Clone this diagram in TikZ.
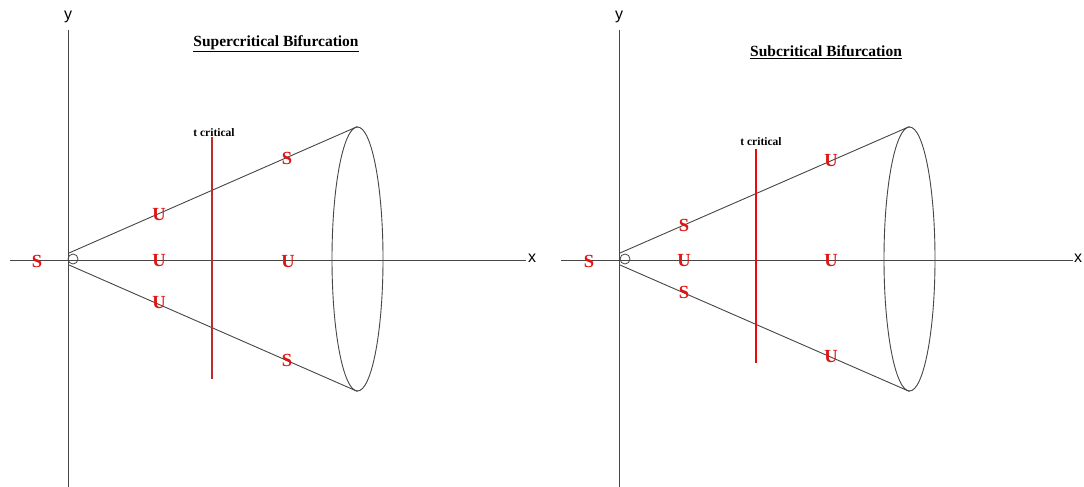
\documentclass[tikz,border=0pt]{standalone}
\usepackage{fontspec}
\setmainfont{Liberation Serif}
\newfontfamily\axisfont{Liberation Sans}
\usetikzlibrary{shapes.geometric}
\definecolor{axgray}{RGB}{70,70,70}
\definecolor{labred}{RGB}{225,20,20}
\definecolor{darkred}{RGB}{190,45,45}
\definecolor{brightred}{RGB}{235,10,10}
\begin{document}
\begin{tikzpicture}[x=1pt,y=-1pt,
  axis/.style={draw=axgray,line width=1pt},
  cone/.style={draw=axgray,line width=0.9pt},
  rim/.style={ellipse,draw=axgray,line width=0.9pt,minimum width=51pt,minimum height=264pt,inner sep=0pt},
  orig/.style={circle,draw=axgray,line width=0.8pt,minimum size=10pt,inner sep=0pt},
  axlab/.style={font=\axisfont\fontsize{16}{16}\selectfont,inner sep=0pt},
  ttl/.style={font=\bfseries\fontsize{15.5}{15.5}\selectfont,inner sep=0pt},
  tcrit/.style={font=\bfseries\fontsize{11.5}{11.5}\selectfont,inner sep=0pt},
  lab/.style={text=labred,font=\bfseries\fontsize{18.5}{18.5}\selectfont,inner sep=0pt}]
\useasboundingbox (0,0) rectangle (1084,487);
\fill[white] (0,0) rectangle (1084,487);

% ---------- Left panel: supercritical ----------
\coordinate (Ly0) at (68,487);
\coordinate (Ly1) at (68,30);
\node[axlab] (Ly) at (68,17) {y};
\coordinate (Lx0) at (10,260);
\coordinate (Lx1) at (526,260);
\node[axlab,anchor=west] (Lx) at (528,258) {x};
\draw[axis] (Ly0) -- (Ly1);
\draw[axis] (Lx0) -- (Lx1);
\node[orig] (LO) at (73,259) {};
\coordinate (LA1) at (69,253);
\coordinate (LA2) at (69,265);
\node[rim] (LE) at (357.5,259) {};
\draw[cone] (LA1) -- (LE.north);
\draw[cone] (LA2) -- (LE.south);
\coordinate (Lt0) at (212,137);
\coordinate (Lt1) at (212,379);
\draw[darkred,line width=1.4pt] (Lt0) -- (Lt1);
\node[tcrit] (LT) at (214,133) {t critical};
\node[ttl] (LTitle) at (276,44) {\underline{Supercritical Bifurcation}};
\node[lab] (L1) at (37,261) {S};
\node[lab] (L2) at (159,261) {U};
\node[lab] (L3) at (288,262) {U};
\node[lab] (L4) at (159,215) {U};
\node[lab] (L5) at (159,303) {U};
\node[lab] (L6) at (287,158) {S};
\node[lab] (L7) at (287,360) {S};

% ---------- Right panel: subcritical ----------
\coordinate (Ry0) at (619,487);
\coordinate (Ry1) at (619,30);
\node[axlab] (Ry) at (619,17) {y};
\coordinate (Rx0) at (561,260);
\coordinate (Rx1) at (1073,260);
\node[axlab,anchor=west] (Rx) at (1074,258) {x};
\draw[axis] (Ry0) -- (Ry1);
\draw[axis] (Rx0) -- (Rx1);
\node[orig] (RO) at (625,259) {};
\coordinate (RA1) at (620,253);
\coordinate (RA2) at (620,265);
\node[rim] (RE) at (909.5,259) {};
\draw[cone] (RA1) -- (RE.north);
\draw[cone] (RA2) -- (RE.south);
\coordinate (Rt0) at (756,149);
\coordinate (Rt1) at (756,363);
\draw[brightred,line width=1.6pt] (Rt0) -- (Rt1);
\node[tcrit] (RT) at (761,142) {t critical};
\node[ttl] (RTitle) at (826,52) {\underline{Subcritical Bifurcation}};
\node[lab] (R1) at (589,261) {S};
\node[lab] (R2) at (684,261) {U};
\node[lab] (R3) at (831,261) {U};
\node[lab] (R4) at (684,225) {S};
\node[lab] (R5) at (684,292) {S};
\node[lab] (R6) at (831,161) {U};
\node[lab] (R7) at (831,357) {U};
\end{tikzpicture}
\end{document}
